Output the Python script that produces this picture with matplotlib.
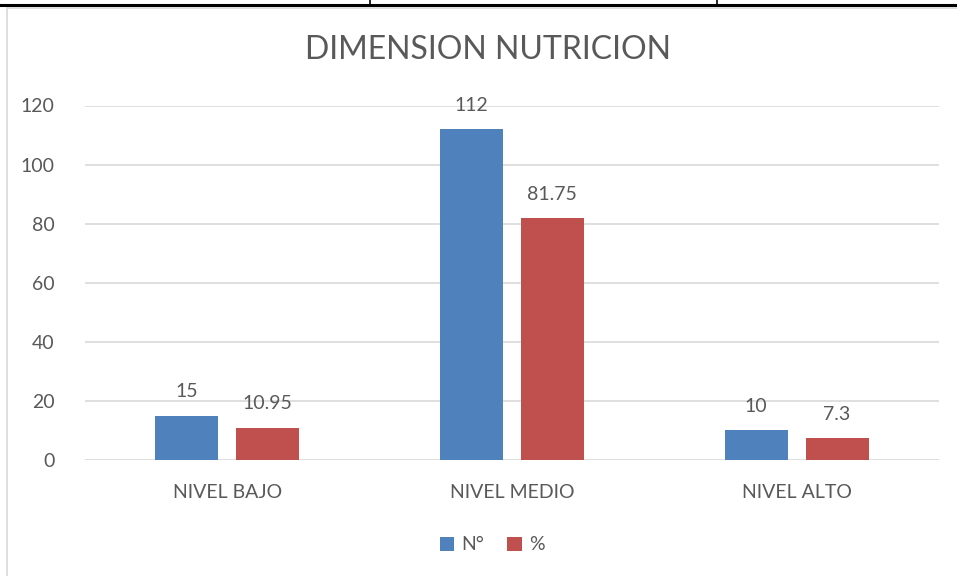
import numpy as np
import matplotlib.pyplot as plt
from matplotlib.lines import Line2D

categories = ['NIVEL BAJO', 'NIVEL MEDIO', 'NIVEL ALTO']
n_values = [15, 112, 10]
pct_values = [10.95, 81.75, 7.3]
pct_labels = ['10.95', '81.75', '7.3']
series_names = ['N°', '%']

plt.rcParams['font.family'] = ['Lato', 'DejaVu Sans']
txt = '#595959'
blue = '#4F81BD'
red = '#C0504D'

fig = plt.figure(figsize=(9.57, 5.76), dpi=100)

# table borders at top of page and chart frame on the left
fig.add_artist(Line2D([0, 1], [1 - 5/576, 1 - 5/576], color='black', lw=2.2))
for xp in [370, 717]:
    fig.add_artist(Line2D([xp/957, xp/957], [1 - 5/576, 1], color='black', lw=1.2))
fig.add_artist(Line2D([7/957, 7/957], [0, 1 - 8/576], color='#D9D9D9', lw=1.2))
fig.add_artist(Line2D([7/957, 1], [1 - 8/576, 1 - 8/576], color='#D9D9D9', lw=1.2))

ax = fig.add_axes([85/957, 1 - 460/576, (939 - 85)/957, (460 - 105.5)/576])
x = np.arange(len(categories))
off = 0.142
w = 0.221
b1 = ax.bar(x - off, n_values, w, color=blue, label=series_names[0], zorder=3)
b2 = ax.bar(x + off, pct_values, w, color=red, label=series_names[1], zorder=3)

for rect, v in zip(b1, n_values):
    ax.text(rect.get_x() + rect.get_width()/2, v + 5.2, str(v), ha='center', va='bottom',
            fontsize=14, color=txt)
for rect, v, lab in zip(b2, pct_values, pct_labels):
    ax.text(rect.get_x() + rect.get_width()/2, v + 5.2, lab, ha='center', va='bottom',
            fontsize=14, color=txt)

ax.set_xlim(-0.5, 2.5)
ax.set_ylim(0, 120)
ax.set_yticks(range(0, 121, 20))
ax.set_xticks(x)
ax.set_xticklabels(categories)
ax.tick_params(axis='both', length=0, labelsize=14, colors=txt)
ax.tick_params(axis='y', pad=22)
ax.tick_params(axis='x', pad=17)
ax.grid(axis='y', color='#D9D9D9', lw=1.2, zorder=0)
for s in ax.spines.values():
    s.set_visible(False)

fig.text(488/957, 1 - 50/576, 'DIMENSION NUTRICION', ha='center', va='center',
         fontsize=23, color=txt)

fig.legend(loc='center', bbox_to_anchor=(492/957, 1 - 545/576), ncol=2, frameon=False,
           fontsize=14, labelcolor=txt, handlelength=0.75, handleheight=0.75,
           handletextpad=0.35, columnspacing=1.2)

fig.savefig('out.png', dpi=100, facecolor='white')
